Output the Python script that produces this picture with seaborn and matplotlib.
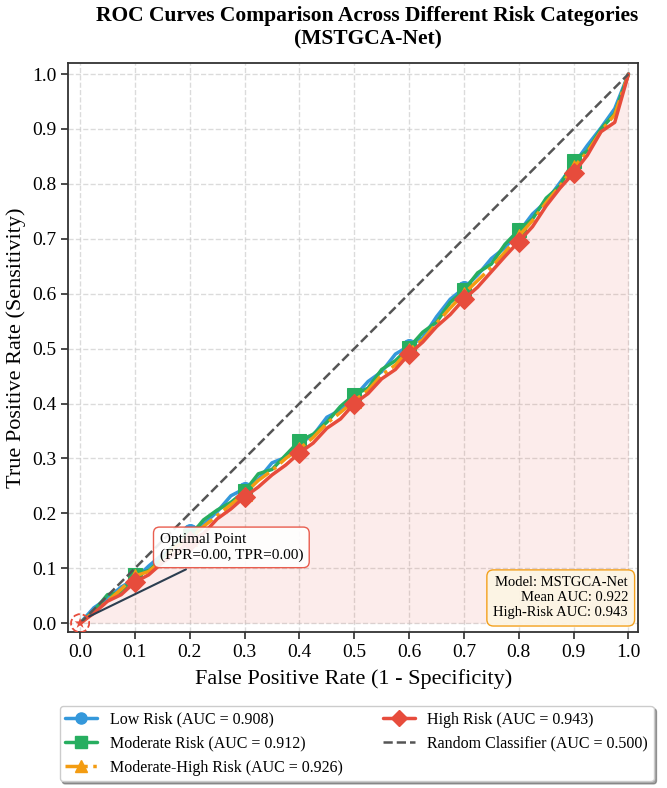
import numpy as np
import seaborn as sns
import matplotlib
matplotlib.use('Agg')
import matplotlib.pyplot as plt
from matplotlib.lines import Line2D

sns.set_theme(style='whitegrid')
plt.rcParams['font.family'] = ['Liberation Serif', 'DejaVu Serif']
plt.rcParams['text.color'] = 'black'
plt.rcParams['axes.labelcolor'] = 'black'
plt.rcParams['xtick.color'] = 'black'
plt.rcParams['ytick.color'] = 'black'

fpr = [0.0, 0.025, 0.05, 0.075, 0.1, 0.125, 0.15, 0.175, 0.2, 0.225,
       0.25, 0.275, 0.3, 0.325, 0.35, 0.375, 0.4, 0.425, 0.45, 0.475,
       0.5, 0.525, 0.55, 0.575, 0.6, 0.625, 0.65, 0.675, 0.7, 0.725,
       0.75, 0.775, 0.8, 0.825, 0.85, 0.875, 0.9, 0.925, 0.95, 0.975, 1.0]

tpr_low = [0.0, 0.028, 0.045, 0.066, 0.08, 0.104, 0.125, 0.138, 0.168, 0.18,
           0.203, 0.232, 0.245, 0.262, 0.292, 0.302, 0.328, 0.342, 0.375, 0.388,
           0.412, 0.44, 0.458, 0.49, 0.505, 0.52, 0.558, 0.59, 0.61, 0.634,
           0.664, 0.684, 0.712, 0.745, 0.768, 0.802, 0.835, 0.87, 0.902, 0.937, 1.0]
tpr_mod = [0.0, 0.022, 0.052, 0.056, 0.088, 0.096, 0.118, 0.148, 0.158, 0.188,
           0.206, 0.22, 0.24, 0.272, 0.28, 0.306, 0.332, 0.344, 0.366, 0.395,
           0.416, 0.428, 0.462, 0.478, 0.502, 0.53, 0.548, 0.584, 0.606, 0.638,
           0.654, 0.69, 0.716, 0.736, 0.774, 0.796, 0.842, 0.86, 0.9, 0.928, 1.0]
tpr_modhigh = [0.0, 0.02, 0.04, 0.062, 0.086, 0.094, 0.115, 0.14, 0.154, 0.176,
               0.196, 0.216, 0.236, 0.26, 0.278, 0.3, 0.318, 0.338, 0.364, 0.384,
               0.405, 0.424, 0.452, 0.47, 0.498, 0.516, 0.546, 0.574, 0.6, 0.624,
               0.648, 0.676, 0.705, 0.733, 0.766, 0.796, 0.83, 0.858, 0.896, 0.926, 1.0]
tpr_high = [0.0, 0.018, 0.04, 0.052, 0.075, 0.088, 0.11, 0.128, 0.15, 0.163,
            0.19, 0.208, 0.23, 0.248, 0.27, 0.288, 0.31, 0.328, 0.355, 0.372,
            0.4, 0.418, 0.445, 0.462, 0.49, 0.512, 0.54, 0.562, 0.59, 0.612,
            0.64, 0.668, 0.695, 0.722, 0.76, 0.792, 0.82, 0.852, 0.895, 0.912, 1.0]

labels = ['Low Risk (AUC = 0.908)', 'Moderate Risk (AUC = 0.912)',
          'Moderate-High Risk (AUC = 0.926)', 'High Risk (AUC = 0.943)']
colors = ['#3498db', '#27ae60', '#f39c12', '#e74c3c']
markers = ['o', 's', '^', 'D']
styles = ['-', '-', '-.', '-']
curves = [tpr_low, tpr_mod, tpr_modhigh, tpr_high]

fig, ax = plt.subplots(figsize=(6.67, 7.88), dpi=100)
fig.subplots_adjust(left=0.102, right=0.957, top=0.92, bottom=0.198)

handles = []
for tpr, lab, c, m, ls in zip(curves, labels, colors, markers, styles):
    sns.lineplot(x=fpr, y=tpr, ax=ax, color=c, lw=2.5, linestyle=ls,
                 marker=m, markersize=10, markeredgecolor=c,
                 markevery=list(range(4, 40, 4)),
                 legend=False, estimator=None, sort=False)
    handles.append(Line2D([], [], color=c, lw=2.5, linestyle=ls, marker=m,
                          markersize=8, markeredgecolor=c, label=lab))

ax.fill_between(fpr, tpr_high, color='#e74c3c', alpha=0.1, lw=0)
ax.plot([0, 1], [0, 1], '--', color='#555555', lw=1.8)
handles.append(Line2D([], [], color='#555555', lw=1.8, linestyle='--',
                      label='Random Classifier (AUC = 0.500)'))

ax.scatter([0], [0], marker='o', s=170, facecolor='none', edgecolor='#e74c3c',
           linewidth=1.3, linestyle='--', zorder=6)
ax.scatter([0], [0], marker='*', s=70, facecolor='#e74c3c', edgecolor='none', zorder=6)
ax.annotate('Optimal Point\n(FPR=0.00, TPR=0.00)', xy=(0.012, 0.01),
            xytext=(0.145, 0.118), fontsize=11, zorder=7,
            bbox=dict(boxstyle='round,pad=0.4', fc='white', ec='#e74c3c', alpha=0.9),
            arrowprops=dict(arrowstyle='-', color='#2c3e50', lw=1.5))

ax.text(0.982, 0.022, 'Model: MSTGCA-Net\nMean AUC: 0.922\nHigh-Risk AUC: 0.943',
        transform=ax.transAxes, ha='right', va='bottom', fontsize=10.5,
        bbox=dict(boxstyle='round,pad=0.45', fc='#fdf5e4', ec='#f39c12', alpha=0.95))

ax.set_xlim(-0.022, 1.018)
ax.set_ylim(-0.016, 1.02)
ax.set_xticks(np.arange(0, 1.01, 0.1))
ax.set_yticks(np.arange(0, 1.01, 0.1))
ax.grid(True, linestyle='--', color='#cccccc', alpha=0.7)
for s in ax.spines.values():
    s.set_color('#333333')
    s.set_linewidth(1.3)
ax.tick_params(axis='both', labelsize=14, length=5, color='#333333', bottom=True, left=True)

ax.set_xlabel('False Positive Rate (1 - Specificity)', fontsize=16, labelpad=6)
ax.set_ylabel('True Positive Rate (Sensitivity)', fontsize=16)
fig.suptitle('ROC Curves Comparison Across Different Risk Categories\n(MSTGCA-Net)',
             fontsize=15.5, fontweight='bold', x=0.551, y=0.992, va='top')

ax.legend(handles=handles, loc='upper center',
          bbox_to_anchor=(0.506, -0.116), ncol=2,
          fontsize=11.5, frameon=True, fancybox=True, shadow=True, edgecolor='#cccccc',
          labelspacing=0.5, columnspacing=2.5, borderpad=0.35)

fig.savefig('out.png', dpi=100)
